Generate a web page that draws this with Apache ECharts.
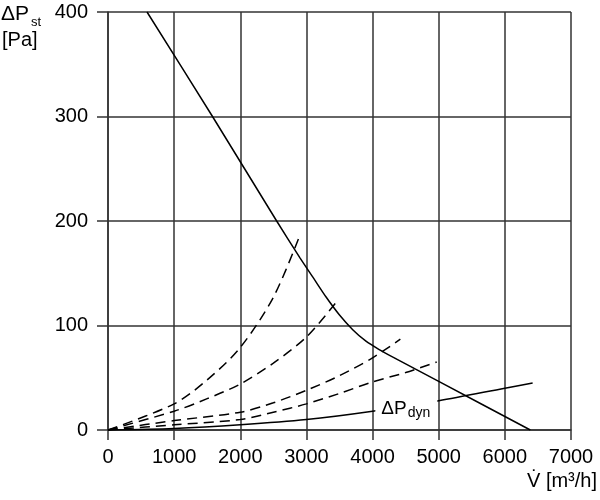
<!DOCTYPE html>
<html>
<head>
<meta charset="utf-8">
<script src="https://cdn.jsdelivr.net/npm/echarts@6/dist/echarts.min.js"></script>
<style>
  html, body { margin: 0; padding: 0; background: #fff; }
  #main { width: 600px; height: 500px; }
</style>
</head>
<body>
<div id="main"></div>
<script>
// x ticks and y ticks
var xTicks = [0, 1000, 2000, 3000, 4000, 5000, 6000, 7000];
var yTicks = [0, 100, 200, 300, 400];

// fan curve (solid)
var fanCurve = [[590, 400], [1580, 300], [2550, 200], [2900, 165], [3100, 146], [3300, 127],
  [3500, 110], [3700, 96], [3900, 85], [4100, 77], [4300, 70], [5000, 46.5], [6385, 0]];

// system curves (dashed)
var sys1 = [[0, 0], [1000, 25], [1500, 48], [2000, 79], [2500, 127], [2905, 187]];
var sys2 = [[0, 0], [1000, 18], [1500, 30], [2000, 44], [2500, 64], [3000, 89], [3435, 121]];
var sys3 = [[0, 0], [1000, 9], [2000, 17], [2500, 26], [3000, 38], [3500, 52], [4000, 69], [4420, 87]];
var sys4 = [[0, 0], [1000, 5], [2000, 10], [2500, 17], [3000, 25], [3500, 35], [4000, 46], [4500, 55], [4970, 65]];

// dynamic pressure
var pDyn = [[0, 0], [1000, 1.5], [2000, 5], [3000, 10], [4000, 18], [5000, 28], [6000, 40], [6420, 45]];
var pDynLabelAt = [4510, 20];

var chart = echarts.init(document.getElementById('main'));
var font = 'Liberation Sans, Arial, sans-serif';
var gridColor = '#333';

function dashed(data) {
  return {
    type: 'line', data: data, symbol: 'none', smooth: 0.3,
    lineStyle: { color: '#000', width: 1.5, type: [10, 6] }
  };
}

chart.setOption({
  animation: false,
  grid: { left: 108, right: 29, top: 12, bottom: 70 },
  xAxis: {
    type: 'value', min: xTicks[0], max: xTicks[xTicks.length - 1], interval: 1000,
    axisLine: { show: true, lineStyle: { color: gridColor, width: 1.5 } },
    axisTick: { show: true, length: 10, lineStyle: { color: gridColor, width: 1.5 } },
    axisLabel: { color: '#000', fontSize: 20, fontFamily: font, margin: 17, formatter: function (v) { return String(v); } },
    splitLine: { show: true, showMinLine: true, showMaxLine: true, lineStyle: { color: gridColor, width: 1.5 } }
  },
  yAxis: {
    type: 'value', min: yTicks[0], max: yTicks[yTicks.length - 1], interval: 100,
    axisLine: { show: true, lineStyle: { color: gridColor, width: 1.5 } },
    axisTick: { show: true, length: 11, lineStyle: { color: gridColor, width: 1.5 } },
    axisLabel: { color: '#000', fontSize: 20, fontFamily: font, margin: 20, formatter: function (v) { return String(v); } },
    splitLine: { show: true, showMinLine: true, showMaxLine: true, lineStyle: { color: gridColor, width: 1.5 } }
  },
  graphic: [
    { type: 'text', left: 1, top: 4, style: { text: 'ΔP', fontSize: 21, fontFamily: font, fill: '#000' } },
    { type: 'text', left: 31, top: 16, style: { text: 'st', fontSize: 13, fontFamily: font, fill: '#000' } },
    { type: 'text', left: 2, top: 30, style: { text: '[Pa]', fontSize: 20, fontFamily: font, fill: '#000' } },
    { type: 'text', right: 3, top: 471, style: { text: 'V\u0307 [m³/h]', fontSize: 20, fontFamily: font, fill: '#000' } }
  ],
  series: [
    {
      type: 'line', data: fanCurve, symbol: 'none', smooth: 0.25,
      lineStyle: { color: '#000', width: 1.5 }
    },
    dashed(sys1), dashed(sys2), dashed(sys3), dashed(sys4),
    {
      type: 'line', data: pDyn, symbol: 'none', smooth: 0.3,
      lineStyle: { color: '#000', width: 1.5 },
      markPoint: {
        symbol: 'rect', symbolSize: 0,
        data: [{ coord: pDynLabelAt }],
        label: {
          show: true, position: 'inside',
          formatter: '{a|ΔP}{b|dyn}',
          backgroundColor: '#fff', padding: [1, 7, 1, 6],
          rich: {
            a: { fontSize: 19, fontFamily: font, color: '#000' },
            b: { fontSize: 14, fontFamily: font, color: '#000', padding: [8, 0, 0, 1] }
          }
        }
      }
    }
  ]
});
</script>
</body>
</html>
